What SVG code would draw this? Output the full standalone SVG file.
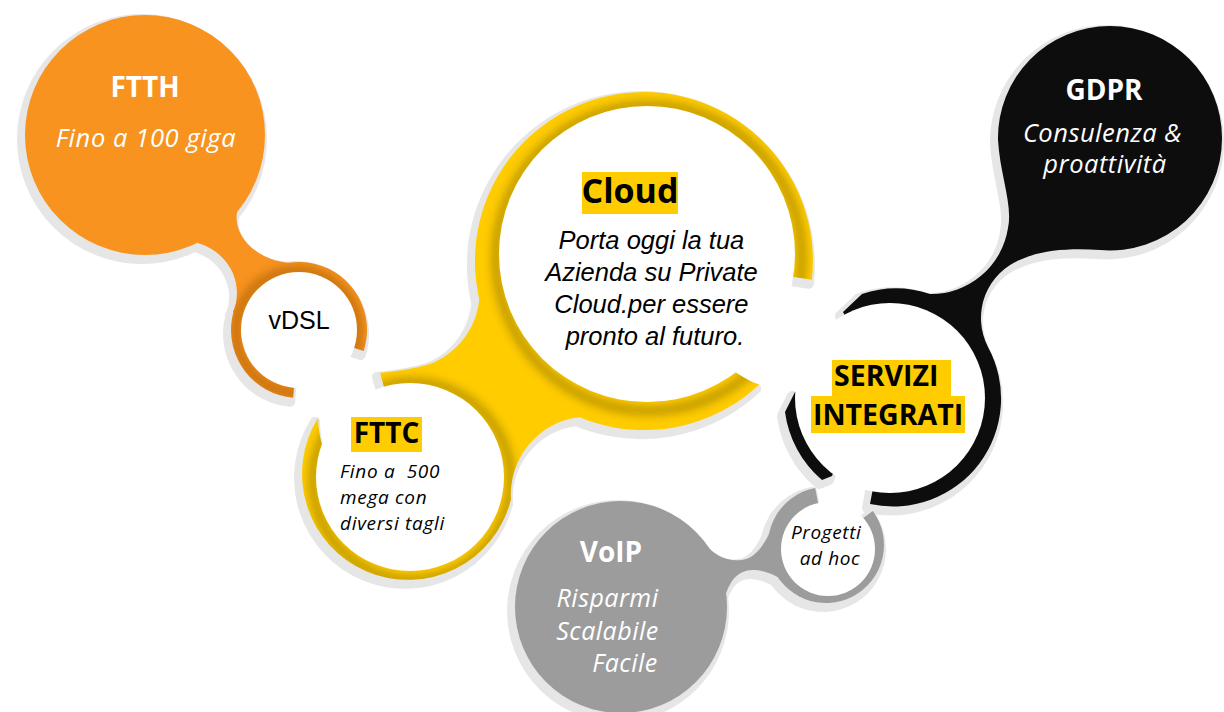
<svg xmlns="http://www.w3.org/2000/svg" width="1224" height="712" viewBox="0 0 1224 712">
<style>
.halo{fill:#e6e6e6;stroke:#e6e6e6;stroke-width:10;stroke-linejoin:round}
.or{fill:#F7931E}
.ye{fill:#FFCC00}
.bk{fill:#0D0D0D}
.gr{fill:#9C9C9C}
.wh{fill:#FFFFFF}
.hl{fill:#FFCC00}
.shade{fill:none;stroke-width:10;opacity:0.5}
.tb{font-family:"Open Sans","DejaVu Sans",sans-serif;font-weight:700}
.ti{font-family:"Open Sans","DejaVu Sans",sans-serif;font-style:italic}
.ta{font-family:"Liberation Sans",Arial,sans-serif}
</style>
<defs>
  <filter id="soft" x="-20%" y="-20%" width="140%" height="140%"><feGaussianBlur stdDeviation="4"/></filter>
  <circle id="sFTTH" cx="145" cy="135" r="120"/>
  <path id="sONeck" d="M 237 212 C 233 235 255 260 290 263 L 299 330 L 233 312 C 243 290 235 255 198 243 L 145 135 Z"/>
  <path id="sVDSL" d="M 299 330 L 293.1 397.7 A 68 68 0 1 1 363.7 351 Z"/>
  <path id="sFTTC" d="M 408 474 L 322 445 Q 318 430 318.1 417.8 A 106 106 0 1 0 510.9 499.6 Z"/>
  <path id="sYNeck" d="M 475 265 A 77.5 77.5 0 0 1 430 364 Q 410 370 380 373 L 410 477 L 511 500 A 78 78 0 0 1 580 417 L 647 254 Z"/>
  <path id="sCloud" d="M 647 254 L 735 372 Q 752 383 759.3 384.6 A 169 169 0 1 1 811.9 279.8 Z"/>
  <path id="sBlack" d="M 998 140 A 112 112 0 0 1 1110 26 A 112 112 0 0 1 1222 138 A 112 112 0 0 1 1100 250 C 1070 248 1042 250 1022 259 A 63 63 0 0 0 988 347 A 108 108 0 0 1 870 504 L 890 398 L 843 312 L 862 294 A 108 108 0 0 1 930 294 A 78 78 0 0 0 1008 228 C 1013 205 1000 175 998 140 Z"/>
  <path id="sSliver" d="M 795 392 L 785 412 A 108 108 0 0 0 822 480 L 832 476 L 860 398 Z"/>
  <circle id="sVoIP" cx="621" cy="607" r="106"/>
  <path id="sGNeck" d="M 700 537 C 712 556 728 562 742 560 C 758 558 768 540 778 512 L 826 545 L 800 597 Q 780 572 755 570 Q 732 568 724 600 L 621 607 Z"/>
  <path id="sProg" d="M 826 545 L 872.9 510.9 A 58 58 0 1 1 815.2 488 Z"/>
  <clipPath id="clipY"><use href="#sFTTC"/><use href="#sYNeck"/><use href="#sCloud"/></clipPath>
  <clipPath id="clipO"><use href="#sVDSL"/><use href="#sONeck"/></clipPath>
</defs>

<g id="shadows" transform="translate(-3,4)">
  <use href="#sFTTH" class="halo"/>
  <use href="#sONeck" class="halo"/>
  <use href="#sVDSL" class="halo"/>
  <use href="#sFTTC" class="halo"/>
  <use href="#sYNeck" class="halo"/>
  <use href="#sCloud" class="halo"/>
  <use href="#sBlack" class="halo"/>
  <use href="#sSliver" class="halo"/>
  <use href="#sVoIP" class="halo"/>
  <use href="#sGNeck" class="halo"/>
  <use href="#sProg" class="halo"/>
</g>

<g id="connectors">
  <use href="#sONeck" class="or"/>
  <use href="#sYNeck" class="ye"/>
  <use href="#sGNeck" class="gr"/>
</g>

<g id="node-ftth">
  <use href="#sFTTH" class="or"/>
  <text class="tb" x="145" y="97" font-size="28" fill="#FFFFFF" text-anchor="middle">FTTH</text>
  <text class="ti" x="146" y="147" font-size="25.5" letter-spacing="0.6" fill="#FFFFFF" text-anchor="middle">Fino a 100 giga</text>
</g>

<g id="node-vdsl">
  <use href="#sVDSL" class="or"/>
  <g clip-path="url(#clipO)"><circle cx="297" cy="332" r="61" class="shade" stroke="#9a5200" opacity="0.35" filter="url(#soft)"/></g>
  <circle cx="299" cy="330" r="58" class="wh"/>
  <text class="ta" x="299" y="329" font-size="25" fill="#000000" text-anchor="middle">vDSL</text>
</g>

<g id="node-fttc">
  <use href="#sFTTC" class="ye"/>
</g>
<g id="node-cloud">
  <use href="#sCloud" class="ye"/>
</g>
<g id="yellow-shading" clip-path="url(#clipY)">
  <circle cx="412" cy="481" r="99" class="shade" stroke="#8a6f00" filter="url(#soft)"/>
  <circle cx="649" cy="258" r="153" class="shade" stroke="#8a6f00" filter="url(#soft)"/>
</g>

<g id="node-servizi">
  <use href="#sBlack" class="bk"/>
  <use href="#sSliver" class="bk"/>
</g>

<g id="node-voip">
  <use href="#sVoIP" class="gr"/>
  <text class="tb" x="611" y="562" font-size="28" fill="#FFFFFF" text-anchor="middle">VoIP</text>
  <text class="ti" font-size="25" letter-spacing="0.5" fill="#FFFFFF" text-anchor="middle">
    <tspan x="611" y="607">Risparmi</tspan>
    <tspan x="611" y="640">Scalabile</tspan>
    <tspan x="625" y="672">Facile</tspan>
  </text>
</g>

<g id="node-progetti">
  <use href="#sProg" class="gr"/>
  <circle cx="828" cy="549" r="47" class="wh"/>
  <text class="ti" font-size="19" letter-spacing="0.6" fill="#000000" text-anchor="middle">
    <tspan x="829" y="539">Progetti</tspan>
    <tspan x="830" y="565">ad hoc</tspan>
  </text>
</g>

<g id="fttc-content">
  <circle cx="410" cy="477" r="94" class="wh"/>
  <rect x="351" y="417" width="71" height="35" class="hl"/>
  <text class="tb" x="386.5" y="443" font-size="28" fill="#000000" text-anchor="middle">FTTC</text>
  <text class="ti" font-size="19" letter-spacing="0.7" fill="#000000" xml:space="preserve"><tspan x="340" y="478">Fino a  500</tspan><tspan x="340" y="504">mega con</tspan><tspan x="340" y="530">diversi tagli</tspan></text>
</g>

<g id="cloud-content">
  <circle cx="647" cy="254" r="148" class="wh"/>
  <rect x="582" y="172" width="96" height="42" class="hl"/>
  <text class="tb" x="630" y="203" font-size="34" fill="#000000" text-anchor="middle">Cloud</text>
  <text class="ta" font-style="italic" font-size="25.5" fill="#000000" text-anchor="middle">
    <tspan x="655" y="249">Porta oggi la tua</tspan>
    <tspan x="655" y="281">Azienda su Private</tspan>
    <tspan x="655" y="313">Cloud.per essere</tspan>
    <tspan x="655" y="345">pronto al futuro.</tspan>
  </text>
</g>

<g id="servizi-content">
  <circle cx="890" cy="398" r="95" class="wh"/>
  <rect x="832" y="360" width="119" height="36" class="hl"/>
  <rect x="811" y="396" width="154" height="37" class="hl"/>
  <text class="tb" font-size="28.5" fill="#000000"><tspan x="834" y="386">SERVIZI</tspan><tspan x="813" y="425">INTEGRATI</tspan></text>
</g>

<g id="node-gdpr">
  <text class="tb" x="1104" y="100" font-size="28" fill="#FFFFFF" text-anchor="middle">GDPR</text>
  <text class="ti" font-size="25.5" letter-spacing="0.5" fill="#FFFFFF" text-anchor="middle">
    <tspan x="1106" y="142">Consulenza &amp;</tspan>
    <tspan x="1105" y="173">proattività</tspan>
  </text>
</g>
</svg>
